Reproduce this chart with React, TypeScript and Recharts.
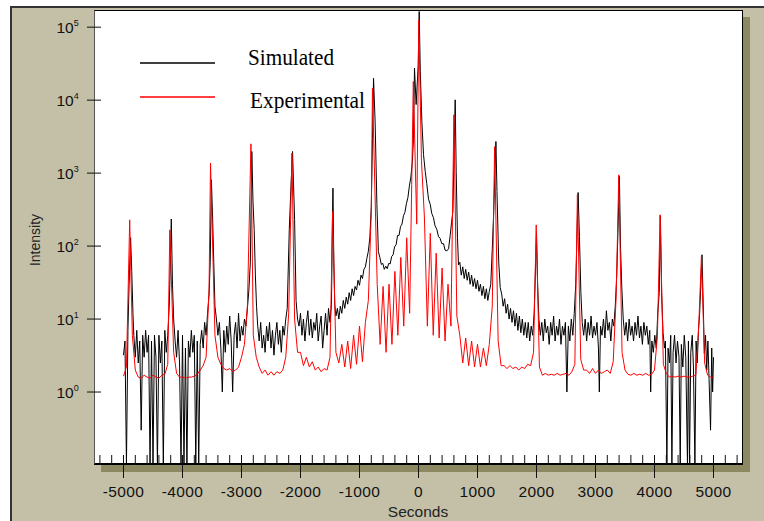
import { Line, LineChart, XAxis, YAxis } from "recharts";

// rocking curve, log intensity vs seconds
// simulated (black) is sampled finer than the measured curve
const simSeconds = [
  -5000, -4975, -4950, -4925, -4905, -4880, -4860, -4840,
  -4825, -4800, -4775, -4750, -4725, -4700, -4675, -4650, -4625, -4600, -4575, -4550, -4525, -4500, -4475,
  -4450, -4425, -4400, -4375, -4350, -4325, -4300, -4275, -4250, -4225, -4205, -4190, -4170, -4150,
  -4125, -4100, -4075, -4050, -4025, -4000, -3975, -3950, -3925, -3900, -3875, -3850, -3825, -3800, -3775,
  -3750, -3725, -3700, -3675, -3650, -3625, -3600, -3575, -3550, -3530, -3510, -3490, -3470, -3450,
  -3425, -3400, -3375, -3350, -3325, -3300, -3275, -3250, -3225, -3200, -3175, -3150, -3125, -3100, -3075,
  -3050, -3025, -3000, -2975, -2950, -2925, -2900, -2875, -2850, -2825, -2805, -2785, -2765, -2745,
  -2725, -2700, -2675, -2650, -2625, -2600, -2575, -2550, -2525, -2500, -2475, -2450, -2425, -2400, -2375,
  -2350, -2325, -2300, -2275, -2250, -2225, -2190, -2160, -2135, -2100, -2075, -2050,
  -2025, -2000, -1975, -1950, -1925, -1900, -1875, -1850, -1825, -1800, -1775, -1750, -1725, -1700, -1675,
  -1650, -1625, -1600, -1575, -1550, -1525, -1500, -1475, -1460, -1450, -1435, -1420, -1400,
  -1375, -1350, -1325, -1300, -1275, -1250, -1225, -1200, -1175, -1150, -1125, -1100, -1075, -1050, -1025,
  -1000, -975, -950, -925, -900, -875, -850, -825, -800, -780, -762, -735, -705, -680,
  -655, -630, -605, -580, -555, -530, -505, -480, -455, -430, -405, -380, -355, -330, -305,
  -280, -255, -230, -205, -180, -155, -130, -105, -85, -68, -40, -5, 12, 30, 57,
  85, 114, 140, 170, 200, 225, 254, 280, 310, 339, 365, 395, 424, 450, 481,
  510, 537, 560, 583, 600, 622, 639, 661, 678,
  700, 725, 750, 775, 800, 825, 850, 875, 900, 925, 950, 975, 1000, 1025, 1050,
  1075, 1100, 1125, 1150, 1175, 1200, 1225, 1250, 1275, 1295, 1312, 1330, 1360, 1385,
  1410, 1435, 1460, 1485, 1510, 1535, 1560, 1585, 1610, 1635, 1660, 1685, 1710, 1735, 1760,
  1785, 1810, 1835, 1860, 1885, 1910, 1935, 1960, 1980, 2000, 2020, 2040,
  2065, 2090, 2115, 2140, 2165, 2190, 2215, 2240, 2265, 2290, 2315, 2340, 2365, 2390, 2415,
  2440, 2465, 2490, 2515, 2540, 2565, 2590, 2615, 2640, 2665, 2705, 2728, 2752, 2775,
  2800, 2825, 2850, 2875, 2900, 2925, 2950, 2975, 3000, 3025, 3050, 3065, 3085, 3110, 3135,
  3160, 3185, 3210, 3235, 3260, 3285, 3310, 3335, 3360, 3380, 3405, 3425, 3445, 3470,
  3495, 3520, 3545, 3570, 3595, 3620, 3645, 3670, 3695, 3720, 3745, 3770, 3795, 3820, 3845,
  3870, 3895, 3920, 3935, 3955, 3980, 4005, 4030, 4055, 4080, 4100, 4120, 4145, 4170,
  4185, 4210, 4230, 4255, 4275, 4295, 4315, 4340, 4365, 4390, 4415, 4436, 4455, 4480, 4505,
  4530, 4559, 4575, 4593, 4615, 4640, 4660, 4685, 4705, 4725, 4745, 4765, 4785, 4805, 4825,
  4845, 4865, 4885, 4905, 4925, 4950, 4970, 4985, 5000,
];

const simulated = [
  3.2, 5, 0.1, 7, 30, 130, 45, 12,
  6, 3, 7, 2.5, 5, 0.3, 6, 3, 7, 3.5, 6, 0.1, 5, 0.1, 6,
  3, 0.1, 6, 2.5, 5, 0.1, 7, 3.5, 6, 15, 60, 235, 30, 10,
  5, 3, 7, 2.5, 0.1, 6, 0.1, 4, 0.1, 5, 3, 7, 3.5, 6, 0.1,
  5, 0.1, 4.5, 7, 4, 9, 6, 12, 22, 60, 809, 250, 60, 15,
  10, 6, 9, 4, 1.0, 7, 3.5, 8, 4.5, 11, 5, 1.0, 6, 9, 4,
  12, 5, 8, 6, 10, 8, 14, 25, 60, 1978, 400, 170, 40, 15,
  8, 5, 9, 4, 6, 3.5, 8, 5, 9, 4, 7, 3.2, 6, 9, 4.5,
  7, 3.5, 8, 6, 10, 14, 170, 700, 1978, 230, 18, 10,
  8, 12, 6, 10, 5, 9, 13, 6, 10, 5.5, 9, 7, 12, 5, 8,
  11, 4, 7, 12, 6, 14, 9, 16, 200, 623, 60, 16, 11,
  14, 10, 15, 12, 18, 14, 20, 16, 23, 18, 26, 21, 28, 25, 34,
  29, 40, 36, 48, 52, 68, 85, 130, 350, 3000, 19900, 5000, 370, 84,
  70, 56, 58, 48, 53, 49, 58, 57, 72, 76, 98, 104, 140, 140, 185,
  200, 260, 290, 380, 460, 660, 880, 1400, 3000, 27400, 8700, 30000, 164000, 25000, 5100,
  1800, 1050, 720, 440, 370, 280, 245, 190, 170, 135, 128, 108, 108, 88, 86,
  92, 140, 210, 300, 1500, 10100, 1050, 130, 55,
  60, 40, 52, 36, 48, 34, 44, 30, 40, 28, 36, 26, 34, 24, 30,
  21, 28, 19, 26, 18, 24, 30, 90, 300, 1000, 2710, 560, 60, 27,
  22, 15, 19, 12, 16, 10, 14, 9, 13, 8, 12, 7, 11, 6.5, 10,
  6, 9, 5.5, 9, 5, 8, 6, 12, 40, 152, 28, 10,
  6, 9, 5, 10, 6.5, 8, 4.5, 9, 6, 11, 5, 8, 6, 10, 4.5,
  8, 6, 9, 1.0, 8, 5, 10, 6, 12, 30, 542, 135, 23, 9,
  6, 10, 5, 9, 6, 11, 5.5, 8, 6, 9, 4, 1.0, 8, 6, 10,
  5.5, 13, 7, 9, 5, 10, 8, 15, 40, 150, 900, 90, 28, 10,
  6, 9, 5, 10, 6, 8, 5, 9, 6, 11, 5.5, 8, 4.5, 9, 6,
  8, 4.5, 7, 1.0, 5, 3.5, 6, 4, 12, 23, 260, 23, 6.5, 4,
  5, 0.1, 4, 2.5, 6, 0.1, 3.5, 6, 2.5, 5, 3, 0.1, 4.5, 2.2, 6,
  3, 0.1, 5, 0.1, 3.5, 6, 2.2, 0.1, 5, 2.5, 7, 12, 30, 76, 17,
  3.4, 6, 2, 5, 1.5, 0.3, 4, 1.0, 3,
];

const expSeconds = [
  -5000, -4950, -4895, -4850, -4800, -4750, -4700, -4650, -4600, -4550,
  -4500, -4450, -4400, -4350, -4300, -4250, -4215, -4150, -4100, -4050,
  -4000, -3950, -3900, -3850, -3800, -3750, -3700, -3650, -3600, -3550,
  -3525, -3450, -3400, -3350, -3300, -3250, -3200, -3150, -3100, -3050,
  -3000, -2950, -2900, -2840, -2800, -2750, -2700, -2650, -2600, -2550,
  -2500, -2450, -2400, -2350, -2300, -2250, -2200, -2145, -2100, -2050,
  -2000, -1950, -1900, -1850, -1800, -1750, -1700, -1650, -1600, -1550,
  -1500, -1455, -1400, -1350, -1300, -1250, -1200, -1150, -1100, -1050,
  -1000, -950, -900, -850, -800, -780, -700, -650, -600, -550,
  -500, -450, -400, -350, -300, -250, -200, -150, -115, -88,
  -30, 5, 50, 100, 150, 200, 250, 300, 350, 400,
  450, 500, 550, 600, 650, 700, 750, 800, 850, 900,
  950, 1000, 1050, 1100, 1150, 1200, 1250, 1290, 1350, 1400,
  1450, 1500, 1550, 1600, 1650, 1700, 1750, 1800, 1850, 1900,
  1950, 1995, 2050, 2100, 2150, 2200, 2250, 2300, 2350, 2400,
  2450, 2500, 2550, 2600, 2650, 2693, 2750, 2800, 2850, 2900,
  2950, 3000, 3050, 3100, 3150, 3200, 3250, 3300, 3350, 3395,
  3450, 3500, 3550, 3600, 3650, 3700, 3750, 3800, 3850, 3900,
  3950, 4000, 4050, 4095, 4150, 4200, 4250, 4300, 4350, 4400,
  4450, 4500, 4550, 4600, 4650, 4700, 4750, 4795, 4850, 4900,
  4950, 5000,
];

const experimental = [
  1.65, 2.2, 229, 6, 2.0, 1.6, 1.55, 1.7, 1.6, 1.55,
  1.7, 1.6, 1.55, 1.7, 1.75, 2.4, 167, 3.5, 1.8, 1.6,
  1.6, 1.55, 1.6, 1.6, 1.65, 1.75, 2.0, 2.3, 3.0, 25,
  1371, 6, 3.0, 2.4, 2.1, 2.0, 2.1, 1.9, 2.0, 2.2,
  3.0, 4.5, 15, 2520, 6, 3.0, 2.2, 1.8, 2.0, 1.7,
  1.9, 1.7, 1.9, 1.8, 2.0, 3, 12, 1880, 10, 3.5,
  3.5, 2.3, 3.0, 2.2, 2.6, 2.0, 2.2, 1.9, 2.1, 2.0,
  3.0, 298, 3.5, 2.5, 4.5, 2.2, 5, 2.1, 6, 2.4,
  8, 2.6, 9, 18, 300, 14600, 30, 4.5, 28, 3.5,
  30, 4.5, 45, 6, 70, 8, 130, 12, 700, 18000,
  200, 126000, 1500, 250, 8, 150, 6, 80, 5.5, 50,
  5, 30, 8, 6300, 11, 6, 2.5, 5.5, 2.3, 5,
  2.2, 4.5, 2.2, 4, 2.3, 4.5, 15, 2300, 5, 2.3,
  2.3, 2.1, 2.3, 2.1, 2.2, 2.0, 2.2, 2.1, 2.4, 2.3,
  3.5, 195, 2.2, 1.7, 1.8, 1.7, 1.75, 1.7, 1.8, 1.7,
  1.75, 1.8, 1.7, 1.9, 2.4, 505, 2.8, 2.0, 2.0, 1.8,
  2.1, 1.8, 2.0, 1.8, 1.9, 2.0, 1.8, 2.6, 20, 948,
  3.5, 2.0, 1.75, 1.7, 1.8, 1.7, 1.75, 1.7, 1.8, 1.7,
  1.75, 2.0, 6, 269, 2.4, 1.8, 1.6, 1.65, 1.6, 1.65,
  1.6, 1.65, 1.6, 1.6, 1.65, 1.7, 8, 72, 2.5, 1.7,
  1.6, 1.55,
];

const majorTicks = [-5000, -4000, -3000, -2000, -1000, 0, 1000, 2000, 3000, 4000, 5000];
const decadeTicks = [1, 10, 100, 1000, 10000, 100000];
const decadeExponents = ["0", "1", "2", "3", "4", "5"];

const minorTicks: number[] = [];
for (let s = -5400; s <= 5400; s += 200) minorTicks.push(s);

const simRows = simSeconds.map((s, i) => ({ s, v: simulated[i] }));
const expRows = expSeconds.map((s, i) => ({ s, v: experimental[i] }));

const PLOT_LEFT = 94;
const PLOT_TOP = 10;
const PLOT_W = 649;
const PLOT_H = 455;
const PLOT_BOTTOM = PLOT_TOP + PLOT_H;

const BEIGE = "#c4c0a8";
const SHADOW = "#8c8862";
const SANS = "'Liberation Sans', Arial, sans-serif";
const SERIF = "'Liberation Serif', 'Times New Roman', serif";

function SecondsTick(props: any) {
  const { x, payload } = props;
  const v = payload.value as number;
  const major = majorTicks.includes(v);
  return (
    <g>
      <line x1={x} x2={x} y1={PLOT_BOTTOM - 10} y2={major ? PLOT_BOTTOM + 13 : PLOT_BOTTOM} stroke="#111" />
      {major && (
        <text x={x} y={497} textAnchor="middle" fontFamily={SANS} fontSize={15.5} letterSpacing={0.4} fill="#111">
          {String(v)}
        </text>
      )}
    </g>
  );
}

function IntensityTick(props: any) {
  const { y, payload } = props;
  const idx = decadeTicks.indexOf(payload.value);
  return (
    <g>
      <line x1={87} x2={101} y1={y} y2={y} stroke="#111" />
      <text x={56.5} y={y + 5.6} fontFamily={SANS} fontSize={15.5} fill="#111">
        10
        <tspan dy={-7} fontSize={9}>
          {decadeExponents[idx]}
        </tspan>
      </text>
    </g>
  );
}

export default function App() {
  return (
    <div style={{ position: "absolute", left: 0, top: 0, width: 764, height: 521, background: "#fff", overflow: "hidden" }}>
      <div
        style={{
          position: "absolute",
          left: 10,
          top: 6,
          right: 0,
          bottom: 0,
          background: BEIGE,
          borderLeft: "2px solid #333",
          borderTop: "2px solid #333",
        }}
      />
      <div style={{ position: "absolute", left: PLOT_LEFT + 7, top: PLOT_TOP + 7, width: PLOT_W, height: PLOT_H, background: SHADOW }} />
      <div
        style={{
          position: "absolute",
          left: PLOT_LEFT,
          top: PLOT_TOP,
          width: PLOT_W,
          height: PLOT_H,
          background: "#fff",
          boxSizing: "border-box",
          borderTop: "1px solid #000",
          borderRight: "1px solid #000",
          borderLeft: "1px solid #555",
          borderBottom: "2px solid #000",
        }}
      />
      <div style={{ position: "absolute", left: 0, top: 0 }}>
        <LineChart width={764} height={521} margin={{ top: PLOT_TOP, right: 764 - PLOT_LEFT - PLOT_W, bottom: 0, left: 0 }}>
          <XAxis
            type="number"
            dataKey="s"
            domain={[-5500, 5500]}
            ticks={minorTicks}
            interval={0}
            height={521 - PLOT_BOTTOM}
            axisLine={false}
            tickLine={false}
            tick={SecondsTick}
            allowDataOverflow
          />
          <YAxis
            type="number"
            scale="log"
            domain={[0.1, 172000]}
            ticks={decadeTicks}
            interval={0}
            width={PLOT_LEFT}
            axisLine={false}
            tickLine={false}
            tick={IntensityTick}
            allowDataOverflow
          />
          <Line data={simRows} dataKey="v" name="Simulated" stroke="#000" strokeWidth={1} dot={false} isAnimationActive={false} />
          <Line data={expRows} dataKey="v" name="Experimental" stroke="#ff0000" strokeWidth={1} dot={false} isAnimationActive={false} />
        </LineChart>
      </div>
      <svg width={764} height={521} style={{ position: "absolute", left: 0, top: 0, pointerEvents: "none" }}>
        <line x1={140} x2={215} y1={63} y2={63} stroke="#000" strokeWidth={1.5} />
        <text x={248} y={65} fontFamily={SERIF} fontSize={23} textLength={86} lengthAdjust="spacingAndGlyphs" fill="#000">
          Simulated
        </text>
        <line x1={140} x2={215} y1={97} y2={97} stroke="#ff0000" strokeWidth={1.5} />
        <text x={250} y={108} fontFamily={SERIF} fontSize={23} textLength={115} lengthAdjust="spacingAndGlyphs" fill="#000">
          Experimental
        </text>
        <text x={418} y={517} textAnchor="middle" fontFamily={SANS} fontSize={15.5} fill="#222">
          Seconds
        </text>
        <text
          x={35}
          y={240}
          textAnchor="middle"
          dominantBaseline="central"
          transform="rotate(-90 35 240)"
          fontFamily={SANS}
          fontSize={14}
          fill="#222"
        >
          Intensity
        </text>
      </svg>
    </div>
  );
}
